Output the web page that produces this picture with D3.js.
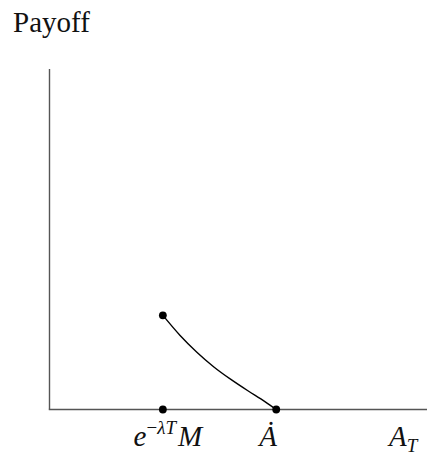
<!DOCTYPE html>
<html>
<head>
<meta charset="utf-8">
<script src="https://cdn.jsdelivr.net/npm/d3@7"></script>
<style>
  html, body { margin: 0; padding: 0; background: #fff; }
  svg { display: block; }
  text { font-family: "Liberation Serif", "DejaVu Serif", serif; fill: #111; }
</style>
</head>
<body>
<svg id="chart" width="427" height="459"></svg>
<script>
// Payoff as a function of the terminal asset value A_T
const curveX = [1.0, 1.15, 1.3, 1.45, 1.6, 1.75, 1.9, 2.0];
const curveY = [0.83, 0.655, 0.505, 0.375, 0.265, 0.165, 0.07, 0.0];
const dotX = [1, 2, 1];
const dotY = [0, 0, 0.83];
const xDomain = [0, 3.33];
const yDomain = [0, 3];
const yLabel = "Payoff";
const xLabel = "A";
const xLabelSub = "T";

const svg = d3.select("#chart");
const x = d3.scaleLinear().domain(xDomain).range([49.5, 427]);
const y = d3.scaleLinear().domain(yDomain).range([409.5, 69]);

// axes
svg.append("line")
  .attr("x1", x(0)).attr("x2", x(0))
  .attr("y1", y(0)).attr("y2", y(yDomain[1]))
  .attr("stroke", "#555").attr("stroke-width", 1.4);
svg.append("line")
  .attr("x1", x(0) - 0.7).attr("x2", x(xDomain[1]))
  .attr("y1", y(0)).attr("y2", y(0))
  .attr("stroke", "#555").attr("stroke-width", 1.4);

// payoff curve
const line = d3.line()
  .x((d, i) => x(curveX[i]))
  .y(d => y(d))
  .curve(d3.curveMonotoneX);
svg.append("path")
  .datum(curveY)
  .attr("d", line)
  .attr("fill", "none")
  .attr("stroke", "#000")
  .attr("stroke-width", 1.4);

// marked points
svg.selectAll("circle.pt")
  .data(dotX)
  .join("circle")
  .attr("class", "pt")
  .attr("cx", d => x(d))
  .attr("cy", (d, i) => y(dotY[i]))
  .attr("r", 3.9)
  .attr("fill", "#000");

// y-axis title
svg.append("text")
  .attr("x", 13).attr("y", 32)
  .attr("font-size", 29)
  .text(yLabel);

// tick labels
const t1 = svg.append("text")
  .attr("x", x(1) + 5).attr("y", 446)
  .attr("text-anchor", "middle")
  .attr("font-size", 29)
  .attr("font-style", "italic");
t1.append("tspan").text("e");
t1.append("tspan").attr("dy", -12).attr("font-size", 19).attr("font-style", "normal").text("\u2212");
t1.append("tspan").attr("font-size", 19).text("\u03BBT");
t1.append("tspan").attr("dy", 12).attr("dx", 2).text("M");

svg.append("text")
  .attr("x", x(2) - 8).attr("y", 446)
  .attr("text-anchor", "middle")
  .attr("font-size", 29)
  .attr("font-style", "italic")
  .text("\u0226");

const t3 = svg.append("text")
  .attr("x", 389).attr("y", 446)
  .attr("font-size", 29)
  .attr("font-style", "italic");
t3.append("tspan").text(xLabel);
t3.append("tspan").attr("dy", 6).attr("font-size", 19).text(xLabelSub);
</script>
</body>
</html>
